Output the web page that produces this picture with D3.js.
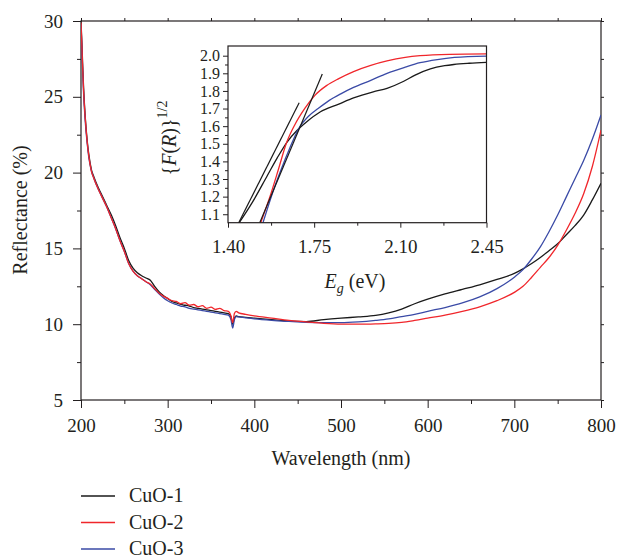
<!DOCTYPE html>
<html lang="en">
<head>
<meta charset="utf-8">
<title>CuO reflectance</title>
<script src="https://cdnjs.cloudflare.com/ajax/libs/d3/7.8.5/d3.min.js"></script>
<style>
  body { margin: 0; background: #fff; }
</style>
</head>
<body>
<div id="chart"></div>
<script>
// wavelength (nm) shared by the three spectra
var wavelength = [200, 201, 202, 203, 205, 207, 209, 212,
  215, 220, 225, 230, 235, 240, 245, 250, 255, 260,
  265, 270, 275, 280, 285, 290, 295, 300, 305, 310,
  315, 320, 325, 330, 335, 340, 345, 350, 355, 360,
  365, 370, 373, 375, 377, 379, 382, 390, 400,
  420, 440, 460, 480, 500, 520, 540,
  555, 570, 585, 600, 620, 640, 660, 680, 700,
  710, 720, 730, 740, 750, 760, 770, 780, 790, 800];

// reflectance (%)
var cuo1 = [30.0, 28.6, 27.0, 25.6, 23.6, 22.2, 21.2, 20.2,
  19.7, 19.0, 18.4, 17.8, 17.2, 16.5, 15.7, 15.0, 14.2, 13.7,
  13.4, 13.2, 13.05, 12.9, 12.5, 12.15, 11.9, 11.7, 11.5, 11.4,
  11.3, 11.25, 11.2, 11.1, 11.05, 11.0, 10.95, 10.9, 10.85, 10.8,
  10.75, 10.7, 10.5, 10.0, 10.4, 10.55, 10.5, 10.45, 10.4,
  10.3, 10.2, 10.17, 10.3, 10.4, 10.48, 10.58,
  10.75, 11.0, 11.35, 11.65, 12.0, 12.3, 12.6, 12.95, 13.35,
  13.65, 14.0, 14.4, 14.85, 15.3, 15.9, 16.5, 17.2, 18.2, 19.3];

var cuo2 = [29.9, 28.4, 26.8, 25.4, 23.5, 22.1, 21.1, 20.1,
  19.6, 18.9, 18.3, 17.7, 17.0, 16.3, 15.5, 14.8, 14.0, 13.5,
  13.2, 13.0, 12.8, 12.65, 12.35, 12.05, 11.85, 11.7, 11.55, 11.5,
  11.35, 11.42, 11.25, 11.3, 11.15, 11.22, 11.05, 11.12, 10.98, 11.05,
  10.9, 10.85, 10.55, 10.1, 10.7, 10.85, 10.75, 10.65, 10.55,
  10.4, 10.25, 10.15, 10.05, 10.0, 10.0, 10.02,
  10.05, 10.12, 10.25, 10.4, 10.6, 10.85, 11.15, 11.55, 12.1,
  12.5, 13.1, 13.75, 14.4, 15.2, 16.2, 17.3, 18.6, 20.4, 22.8];

var cuo3 = [29.8, 28.2, 26.6, 25.2, 23.3, 22.0, 21.0, 20.1,
  19.6, 18.9, 18.3, 17.7, 17.0, 16.3, 15.5, 14.8, 14.0, 13.5,
  13.2, 13.0, 12.8, 12.6, 12.3, 12.0, 11.75, 11.55, 11.4, 11.3,
  11.2, 11.15, 11.05, 11.0, 10.95, 10.9, 10.85, 10.8, 10.75, 10.7,
  10.65, 10.6, 10.3, 9.75, 10.3, 10.5, 10.48, 10.42, 10.35,
  10.25, 10.18, 10.12, 10.1, 10.1, 10.15, 10.25,
  10.35, 10.5, 10.65, 10.85, 11.1, 11.4, 11.8, 12.35, 13.1,
  13.6, 14.3, 15.1, 16.1, 17.2, 18.4, 19.6, 20.8, 22.2, 23.8];

// inset: {F(R)}^1/2 against Eg (eV)
var eg1 = [1.43, 1.50, 1.56, 1.60, 1.64, 1.68, 1.72, 1.774, 1.85, 1.91, 1.99, 2.046, 2.114, 2.16, 2.222, 2.28, 2.317, 2.38, 2.45];
var fr1 = [1.02, 1.17, 1.32, 1.42, 1.51, 1.575, 1.625, 1.68, 1.725, 1.76, 1.795, 1.815, 1.855, 1.89, 1.925, 1.943, 1.95, 1.957, 1.962];
var eg2 = [1.525, 1.542, 1.575, 1.604, 1.637, 1.671, 1.712, 1.753, 1.80, 1.85, 1.91, 1.98, 2.046, 2.12, 2.18, 2.30, 2.45];
var fr2 = [1.02, 1.087, 1.22, 1.351, 1.503, 1.607, 1.701, 1.775, 1.83, 1.87, 1.91, 1.945, 1.97, 1.99, 2.0, 2.008, 2.01];
var eg3 = [1.535, 1.59, 1.631, 1.665, 1.692, 1.726, 1.766, 1.81, 1.86, 1.91, 1.98, 2.046, 2.12, 2.18, 2.25, 2.32, 2.45];
var fr3 = [1.02, 1.257, 1.408, 1.522, 1.597, 1.655, 1.70, 1.745, 1.785, 1.82, 1.86, 1.90, 1.935, 1.96, 1.978, 1.99, 1.998];

// straight-line fits drawn in the inset
var fitAE = [1.4435, 1.689], fitAF = [1.052, 1.733];
var fitBE = [1.529, 1.783], fitBF = [1.052, 1.896];

var xTicks = [200, 300, 400, 500, 600, 700, 800];
var yTicks = [5, 10, 15, 20, 25, 30];
var insetXTicks = [1.40, 1.75, 2.10, 2.45];
var insetYTicks = [1.1, 1.2, 1.3, 1.4, 1.5, 1.6, 1.7, 1.8, 1.9, 2.0];

var seriesNames = ["CuO-1", "CuO-2", "CuO-3"];
var colors = ["#1a1a1a", "#f0262b", "#3a4aa6"];

var serif = "'Liberation Serif', 'Times New Roman', 'DejaVu Serif', serif";
var ink = "#231f20";

var width = 617, height = 558;
var svg = d3.select("#chart").append("svg")
  .attr("width", width)
  .attr("height", height)
  .style("font-family", serif);

var x = d3.scaleLinear().domain([200, 800]).range([81, 601]);
var y = d3.scaleLinear().domain([5, 30]).range([400, 21]);

svg.append("clipPath").attr("id", "mainClip")
  .append("rect").attr("x", 81).attr("y", 21).attr("width", 520).attr("height", 379);

// axes (ticks point outward)
function styleAxis(size) {
  return function(g) {
    g.attr("font-family", null);
    g.select(".domain").remove();
    g.selectAll("line").attr("stroke", ink);
    g.selectAll("text")
      .style("font-family", serif)
      .style("font-size", size + "px")
      .attr("fill", ink);
  };
}

svg.append("g").attr("transform", "translate(0,400)")
  .call(d3.axisBottom(x).tickValues(xTicks).tickSize(8).tickPadding(11).tickFormat(d3.format("d")))
  .call(styleAxis(19));
svg.append("g").attr("transform", "translate(0,400)")
  .call(d3.axisBottom(x).tickValues(d3.range(250, 800, 100)).tickSize(4).tickFormat(""))
  .call(styleAxis(19));
svg.append("g").attr("transform", "translate(81,0)")
  .call(d3.axisLeft(y).tickValues(yTicks).tickSize(8).tickPadding(10).tickFormat(d3.format("d")))
  .call(styleAxis(19));
svg.append("g").attr("transform", "translate(81,0)")
  .call(d3.axisLeft(y).tickValues(d3.range(7.5, 30, 5)).tickSize(4).tickFormat(""))
  .call(styleAxis(19));
svg.append("g").attr("transform", "translate(0,21)")
  .call(d3.axisTop(x).tickValues(d3.range(200, 801, 50)).tickSize(3).tickFormat(""))
  .call(styleAxis(19));
svg.append("g").attr("transform", "translate(601,0)")
  .call(d3.axisRight(y).tickValues(d3.range(5, 30.1, 2.5)).tickSize(3).tickFormat(""))
  .call(styleAxis(19));

svg.append("rect")
  .attr("x", 81).attr("y", 21).attr("width", 520).attr("height", 379)
  .attr("fill", "none").attr("stroke", ink).attr("stroke-width", 1.2);

// spectra
var spectra = [cuo1, cuo2, cuo3];
var line = d3.line()
  .x(function(d, i) { return x(wavelength[i]); })
  .y(function(d) { return y(d); })
  .curve(d3.curveMonotoneX);

[0, 2, 1].forEach(function(k) {
  svg.append("path")
    .datum(spectra[k])
    .attr("clip-path", "url(#mainClip)")
    .attr("d", line)
    .attr("fill", "none")
    .attr("stroke", colors[k])
    .attr("stroke-width", 1.3);
});

// axis titles
svg.append("text")
  .attr("x", 341).attr("y", 465)
  .attr("text-anchor", "middle")
  .attr("fill", ink)
  .style("font-size", "20px")
  .text("Wavelength (nm)");

svg.append("text")
  .attr("transform", "translate(27,210) rotate(-90)")
  .attr("text-anchor", "middle")
  .attr("fill", ink)
  .style("font-size", "20px")
  .text("Reflectance (%)");

// ---- inset ----
var ix = d3.scaleLinear().domain([1.40, 2.45]).range([228, 486.5]);
var iy = d3.scaleLinear().domain([1.052, 2.055]).range([222.7, 46]);

svg.append("rect")
  .attr("x", 228).attr("y", 46).attr("width", 258.5).attr("height", 176.7)
  .attr("fill", "#fff");

svg.append("clipPath").attr("id", "insetClip")
  .append("rect").attr("x", 228).attr("y", 46).attr("width", 258.5).attr("height", 176.7);

svg.append("g").attr("transform", "translate(0,222.7)")
  .call(d3.axisBottom(ix).tickValues(insetXTicks).tickSize(5).tickPadding(12).tickFormat(d3.format(".2f")))
  .call(styleAxis(19));
svg.append("g").attr("transform", "translate(0,222.7)")
  .call(d3.axisBottom(ix).tickValues([1.575, 1.925, 2.275]).tickSize(3).tickFormat(""))
  .call(styleAxis(19));
svg.append("g").attr("transform", "translate(228,0)")
  .call(d3.axisLeft(iy).tickValues(insetYTicks).tickSize(5).tickPadding(3).tickFormat(d3.format(".1f")))
  .call(styleAxis(16));
svg.append("g").attr("transform", "translate(228,0)")
  .call(d3.axisLeft(iy).tickValues(d3.range(1.15, 2.0, 0.1)).tickSize(3).tickFormat(""))
  .call(styleAxis(16));

var insetSets = [[eg1, fr1], [eg2, fr2], [eg3, fr3]];
var iline = d3.line()
  .x(function(d) { return ix(d[0]); })
  .y(function(d) { return iy(d[1]); })
  .curve(d3.curveMonotoneX);

[0, 2, 1].forEach(function(k) {
  var pts = d3.zip(insetSets[k][0], insetSets[k][1]);
  svg.append("path")
    .datum(pts)
    .attr("clip-path", "url(#insetClip)")
    .attr("d", iline)
    .attr("fill", "none")
    .attr("stroke", colors[k])
    .attr("stroke-width", 1.3);
});

[[fitAE, fitAF], [fitBE, fitBF]].forEach(function(f) {
  svg.append("path")
    .datum(d3.zip(f[0], f[1]))
    .attr("clip-path", "url(#insetClip)")
    .attr("d", d3.line().x(function(d) { return ix(d[0]); }).y(function(d) { return iy(d[1]); }))
    .attr("fill", "none")
    .attr("stroke", "#1a1a1a")
    .attr("stroke-width", 1.2);
});

svg.append("rect")
  .attr("x", 228).attr("y", 46).attr("width", 258.5).attr("height", 176.7)
  .attr("fill", "none").attr("stroke", ink).attr("stroke-width", 1.2);

// inset titles
var eg = svg.append("text")
  .attr("x", 355).attr("y", 288)
  .attr("text-anchor", "middle")
  .attr("fill", ink)
  .style("font-size", "20px");
eg.append("tspan").style("font-style", "italic").text("E");
eg.append("tspan").style("font-style", "italic").style("font-size", "14px").attr("dy", 5).text("g");
eg.append("tspan").attr("dy", -5).text(" (eV)");

var fr = svg.append("text")
  .attr("transform", "translate(176,138) rotate(-90)")
  .attr("text-anchor", "middle")
  .attr("fill", ink)
  .style("font-size", "20px");
fr.append("tspan").text("{");
fr.append("tspan").style("font-style", "italic").text("F");
fr.append("tspan").text("(");
fr.append("tspan").style("font-style", "italic").text("R");
fr.append("tspan").text(")}");
fr.append("tspan").style("font-size", "14px").attr("dy", -9).text("1/2");

// legend
var legend = svg.append("g");
seriesNames.forEach(function(name, i) {
  var ly = 496 + i * 26.5;
  legend.append("line")
    .attr("x1", 81).attr("x2", 115)
    .attr("y1", ly).attr("y2", ly)
    .attr("stroke", colors[i])
    .attr("stroke-width", 1.3);
  legend.append("text")
    .attr("x", 129).attr("y", ly + 6)
    .attr("fill", ink)
    .style("font-size", "20px")
    .text(name);
});
</script>
</body>
</html>
